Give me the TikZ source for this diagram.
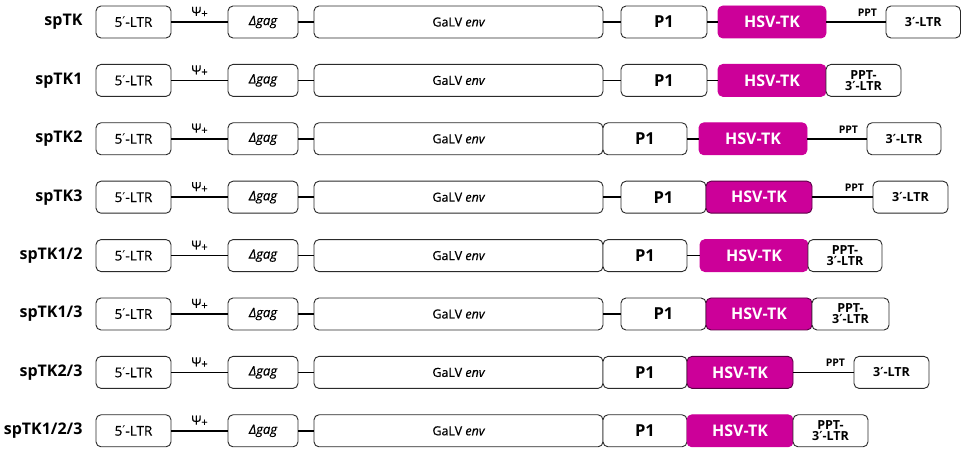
\documentclass[tikz,border=0pt]{standalone}
\usepackage{fontspec}
\setmainfont{Open Sans}
\newfontfamily\regfont{Open Sans}[FakeBold=0.6]
\newfontfamily\symfont{DejaVu Sans}
\definecolor{tkfill}{HTML}{CC0099}
\definecolor{tkdark}{HTML}{5A0045}
\definecolor{boxline}{HTML}{2A2A2A}
\tikzset{
  gbox/.style={draw=boxline, line width=0.9pt, rounded corners=5pt, fill=white, inner sep=0pt, minimum height=32pt, align=center},
  tkbox/.style={gbox, draw=tkfill, fill=tkfill, text=white, font=\fontsize{16}{18}\selectfont\bfseries},
  tkdbox/.style={tkbox, draw=tkdark},
  link/.style={draw=black, line width=1.6pt},
  rowlabel/.style={anchor=east, font=\fontsize{16}{18}\selectfont\bfseries},
  ltrfont/.style={font=\regfont\fontsize{13.5}{15}\selectfont},
  pfont/.style={font=\fontsize{16.5}{18}\selectfont\bfseries},
  galvfont/.style={font=\regfont\fontsize{12.5}{14}\selectfont},
  smallfont/.style={font=\regfont\fontsize{13}{14}\selectfont},
  lfont/.style={font=\fontsize{12.5}{14}\selectfont\bfseries},
  pptfont/.style={font=\fontsize{10.5}{11}\selectfont\bfseries},
  psifont/.style={font=\regfont\fontsize{12.5}{13}\selectfont}
}
% \seg{name}{x1}{x2}{y}{style}{text}
\newcommand\seg[6]{\node[#5, minimum width={#3-#2}] (#1) at ({(#2+#3)/2},#4) {#6};}
\newcommand\pr{{\symfont ′}}
% common left part of a row
\newcommand\leftpart[3]{%
  \node[rowlabel] (lab#1) at (86,#2) {#3};
  \seg{ltr#1}{96}{171}{#2}{gbox,ltrfont}{5\pr-LTR}
  \seg{gag#1}{228}{298}{#2}{gbox,smallfont}{\itshape Δgag}
  \seg{env#1}{314}{603}{#2}{gbox,galvfont}{GaLV \itshape env}
  \draw[link] (ltr#1.east) -- (gag#1.west) node[midway, above=0.5pt, psifont] (psi#1) {Ψ\raisebox{-1.5pt}{\fontsize{11}{11}\selectfont +}};
  \draw[link] (gag#1.east) -- (env#1.west);
}
\begin{document}
\begin{tikzpicture}[x=1pt,y=-1pt]
\useasboundingbox (0,0) rectangle (962,454);
% row 1: spTK
\leftpart{a}{22}{spTK}
\seg{pa}{621}{707}{22}{gbox,pfont}{P1}
\seg{ta}{718}{826}{22}{tkbox}{HSV-TK}
\seg{ra}{886}{960.5}{22}{gbox,lfont}{3\pr-LTR}
\draw[link] (enva.east) -- (pa.west);
\draw[link] (pa.east) -- (ta.west);
\draw[link] (ta.east) -- (ra.west);
\node[pptfont, anchor=south east] (ppta) at ([xshift=-5pt,yshift=2pt]ra.west) {PPT};
% row 2: spTK1
\leftpart{b}{80.4}{spTK1}
\seg{pb}{621}{707}{80.4}{gbox,pfont}{P1}
\seg{tb}{718}{826}{80.4}{tkbox}{HSV-TK}
\seg{rb}{826}{901}{80.4}{gbox,lfont}{PPT-\\[-3pt]3\pr-LTR}
\draw[link] (envb.east) -- (pb.west);
\draw[link] (pb.east) -- (tb.west);
% row 3: spTK2
\leftpart{c}{138.8}{spTK2}
\seg{pc}{603}{687}{138.8}{gbox,pfont}{P1}
\seg{tc}{699}{807}{138.8}{tkbox}{HSV-TK}
\seg{rc}{867}{941}{138.8}{gbox,lfont}{3\pr-LTR}
\draw[link] (pc.east) -- (tc.west);
\draw[link] (tc.east) -- (rc.west);
\node[pptfont, anchor=south east] (pptc) at ([xshift=-5pt,yshift=2pt]rc.west) {PPT};
% row 4: spTK3
\leftpart{d}{197.2}{spTK3}
\seg{pd}{621}{706}{197.2}{gbox,pfont}{P1}
\seg{td}{706}{812}{197.2}{tkdbox}{HSV-TK}
\seg{rd}{873}{948}{197.2}{gbox,lfont}{3\pr-LTR}
\draw[link] (envd.east) -- (pd.west);
\draw[link] (td.east) -- (rd.west);
\node[pptfont, anchor=south east] (pptd) at ([xshift=-5pt,yshift=2pt]rd.west) {PPT};
% row 5: spTK1/2
\leftpart{e}{255.6}{spTK1/2}
\seg{pe}{603}{687}{255.6}{gbox,pfont}{P1}
\seg{te}{700}{808}{255.6}{tkbox}{HSV-TK}
\seg{re}{808}{882}{255.6}{gbox,lfont}{PPT-\\[-3pt]3\pr-LTR}
\draw[link] (pe.east) -- (te.west);
% row 6: spTK1/3
\leftpart{f}{314}{spTK1/3}
\seg{pf}{621}{706}{314}{gbox,pfont}{P1}
\seg{tf}{706}{812}{314}{tkdbox}{HSV-TK}
\seg{rf}{812}{889}{314}{gbox,lfont}{PPT-\\[-3pt]3\pr-LTR}
\draw[link] (envf.east) -- (pf.west);
% row 7: spTK2/3
\leftpart{g}{372.4}{spTK2/3}
\seg{pg}{603}{687}{372.4}{gbox,pfont}{P1}
\seg{tg}{687}{793}{372.4}{tkdbox}{HSV-TK}
\seg{rg}{854}{929}{372.4}{gbox,lfont}{3\pr-LTR}
\draw[link] (tg.east) -- (rg.west);
\node[pptfont, anchor=south east] (pptg) at ([xshift=-5pt,yshift=2pt]rg.west) {PPT};
% row 8: spTK1/2/3
\leftpart{h}{430.8}{spTK1/2/3}
\seg{ph}{603}{687}{430.8}{gbox,pfont}{P1}
\seg{th}{687}{793}{430.8}{tkbox}{HSV-TK}
\seg{rh}{793}{868}{430.8}{gbox,lfont}{PPT-\\[-3pt]3\pr-LTR}
\end{tikzpicture}
\end{document}
